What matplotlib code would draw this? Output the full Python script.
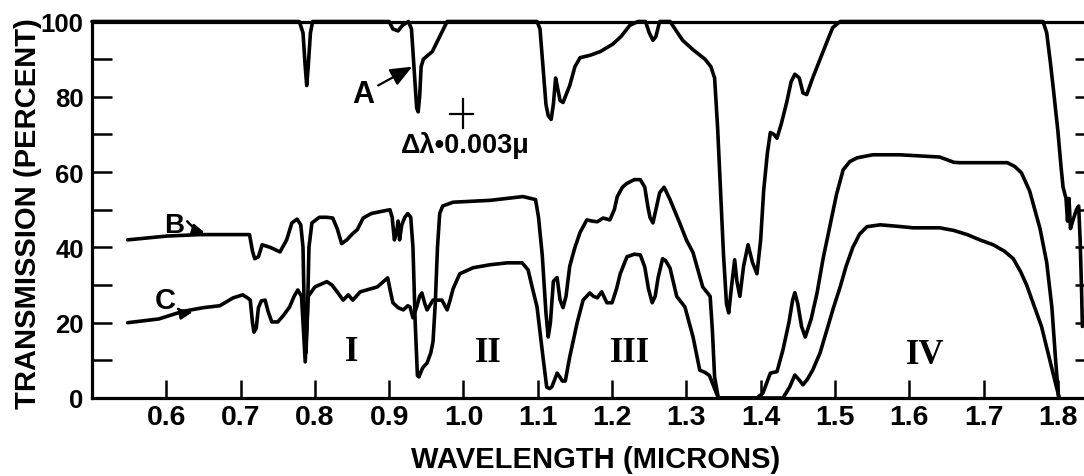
import matplotlib
matplotlib.use("Agg")
import matplotlib.pyplot as plt

# ---------------- data ----------------
# Curve A
A_WAVELENGTH = [0.500, 0.779, 0.784, 0.787, 0.789, 0.791, 0.794, 0.797,
                0.900, 0.905, 0.912, 0.918, 0.926, 0.930, 0.934, 0.937, 0.939, 0.941, 0.943, 0.946, 0.958, 0.968, 0.978,
                1.099, 1.103, 1.107, 1.111, 1.114, 1.118, 1.121, 1.124, 1.127, 1.130, 1.134, 1.143, 1.150, 1.157, 1.170,
                1.184, 1.201, 1.212, 1.224, 1.235, 1.245, 1.250, 1.255, 1.259, 1.264, 1.278,
                1.295, 1.309, 1.325, 1.333, 1.338, 1.342, 1.346, 1.350, 1.354, 1.357, 1.361, 1.365, 1.368, 1.372,
                1.377, 1.383, 1.389, 1.395, 1.400, 1.404, 1.409, 1.413, 1.418, 1.422, 1.428, 1.435, 1.441, 1.446,
                1.452, 1.457, 1.462, 1.470, 1.480, 1.490, 1.497, 1.507,
                1.780, 1.785, 1.790, 1.794, 1.800, 1.804, 1.807, 1.811, 1.813, 1.815, 1.817, 1.820, 1.825, 1.828,
                1.830, 1.832, 1.833]
A_TRANSMISSION = [100, 100, 97, 88, 83, 88, 97, 100,
                  100, 98, 97.5, 99, 100, 98, 86, 77, 76, 80, 88, 90, 92, 96, 100,
                  100, 98, 88, 78, 75, 74, 78, 85, 82, 79, 78.5, 83, 88, 90.4, 91,
                  92, 94, 96, 99, 100, 100, 97, 95, 96, 100, 100,
                  95, 92.5, 90, 88, 85, 72, 55, 38, 25, 22.6, 30, 36.7, 31, 27,
                  35, 40.7, 36, 33, 42, 55, 65, 70.5, 70, 69, 73, 78.5, 84, 86,
                  85, 81, 80.6, 85, 90, 95, 98.4, 100,
                  100, 97, 89, 82, 71, 62, 56, 53, 47, 53, 45, 47, 50, 51,
                  42, 28, 19]

# Curve B
B_WAVELENGTH = [0.548, 0.600, 0.645, 0.712, 0.716, 0.719, 0.724, 0.729, 0.740, 0.753,
                0.762, 0.769, 0.776, 0.781, 0.784, 0.786, 0.788, 0.790, 0.792, 0.796,
                0.806, 0.816, 0.824, 0.830, 0.836, 0.843, 0.850, 0.857, 0.865, 0.876,
                0.888, 0.901, 0.904, 0.907, 0.910, 0.912, 0.914, 0.917, 0.921, 0.925,
                0.929, 0.932, 0.935, 0.938, 0.940, 0.945, 0.951, 0.956, 0.959, 0.962,
                0.965, 0.968, 0.972, 0.986, 1.036, 1.080, 1.097, 1.101, 1.106, 1.111,
                1.114, 1.117, 1.121, 1.126, 1.130, 1.134, 1.138, 1.143, 1.150, 1.157,
                1.166, 1.173, 1.180, 1.188, 1.197, 1.203, 1.207, 1.214, 1.220, 1.230,
                1.238, 1.244, 1.248, 1.251, 1.255, 1.259, 1.264, 1.270, 1.278, 1.291,
                1.300, 1.309, 1.322, 1.332, 1.335, 1.338, 1.343, 1.395, 1.403, 1.413,
                1.422, 1.430, 1.438, 1.443, 1.446, 1.450, 1.455, 1.460, 1.468, 1.476,
                1.484, 1.493, 1.502, 1.511, 1.520, 1.530, 1.551, 1.587, 1.615, 1.641,
                1.660, 1.668, 1.732, 1.742, 1.751, 1.762, 1.776, 1.785, 1.792, 1.797, 1.801]
B_TRANSMISSION = [42, 43, 43.4, 43.4, 39, 37, 37.5, 40.7, 40, 38.8,
                  42, 46.5, 47.5, 46, 40, 20, 12, 22, 40, 46.5,
                  48, 48, 47.8, 45, 41, 42, 43.5, 44.7, 47.8, 49,
                  49.5, 50, 48, 42, 44, 47, 42, 46, 48, 49,
                  48, 40, 20, 6, 5.6, 8, 9.3, 12, 15, 25,
                  40, 49, 51, 52, 52.5, 53.5, 52.7, 48, 38, 22.6,
                  16.2, 20, 31, 32, 26, 24, 27, 35, 40, 44,
                  47.3, 47, 46.8, 47.8, 47.3, 50, 53.5, 56, 57, 58,
                  58, 56, 51, 48, 46.5, 50, 54.5, 56, 52.7, 46.5,
                  42, 38.6, 29.5, 27, 18, 5.6, 0, 0, 1.3, 6.6,
                  7, 12.8, 20, 26, 28, 25, 19, 16.2, 21, 28,
                  37, 45.5, 54, 60.6, 62.8, 63.8, 64.6, 64.6, 64.3, 64,
                  62.6, 62.5, 62.5, 61.5, 59.8, 55, 45, 36, 24, 10, 0]

# Curve C
C_WAVELENGTH = [0.548, 0.590, 0.622, 0.650, 0.672, 0.690, 0.703, 0.710, 0.713, 0.716,
                0.718, 0.721, 0.724, 0.728, 0.733, 0.737, 0.742, 0.750, 0.758, 0.766,
                0.772, 0.777, 0.782, 0.784, 0.787, 0.789, 0.791, 0.800, 0.816, 0.823,
                0.830, 0.838, 0.845, 0.851, 0.861, 0.884, 0.898, 0.902, 0.905, 0.912,
                0.919, 0.925, 0.928, 0.932, 0.937, 0.941, 0.944, 0.948, 0.951, 0.959,
                0.971, 0.975, 0.978, 0.982, 0.986, 0.995, 1.013, 1.036, 1.059, 1.079,
                1.087, 1.093, 1.099, 1.107, 1.112, 1.116, 1.119, 1.123, 1.126, 1.130,
                1.133, 1.137, 1.143, 1.153, 1.161, 1.170, 1.175, 1.180, 1.186, 1.193,
                1.200, 1.206, 1.211, 1.220, 1.230, 1.238, 1.244, 1.249, 1.254, 1.258,
                1.262, 1.268, 1.272, 1.278, 1.287, 1.298, 1.309, 1.318, 1.325, 1.331,
                1.337, 1.343, 1.430, 1.439, 1.446, 1.451, 1.457, 1.463, 1.470, 1.480,
                1.489, 1.498, 1.507, 1.515, 1.524, 1.533, 1.543, 1.561, 1.590, 1.605,
                1.641, 1.660, 1.678, 1.695, 1.713, 1.728, 1.740, 1.750, 1.758, 1.768,
                1.778, 1.788, 1.798, 1.802]
C_TRANSMISSION = [20, 21, 23, 24, 24.5, 26.6, 27.4, 26.5, 26, 20,
                  17.5, 18.5, 24, 25.8, 26, 23, 20.2, 20.2, 22, 24.2,
                  27, 28.7, 27, 20, 9.6, 18, 27, 29.5, 30.9, 30,
                  28.2, 26, 27.4, 26, 28.2, 29.5, 31.9, 28, 25.3, 24,
                  23.4, 24.5, 24.2, 21.3, 24.2, 27, 27.9, 25, 23.4, 26,
                  26, 24.5, 23.4, 26, 29, 33, 34.6, 35.4, 35.9, 35.9,
                  34, 29, 24.2, 10.9, 2.9, 2.5, 3, 5, 6.6, 5.5,
                  4.5, 4.5, 10.9, 20, 26, 27.9, 27, 26.6, 28.2, 25.3,
                  25.3, 29, 33, 37.5, 38.2, 38, 34.8, 29, 25.3, 27,
                  32, 37, 36.5, 34.5, 27, 24.2, 16.2, 7.4, 6.8, 6,
                  3, 0, 0, 2.9, 6.1, 5, 3.5, 5, 7.4, 12,
                  18, 24, 29.5, 35, 40, 43.5, 45.5, 46, 45.5, 45.2,
                  45.2, 44.5, 43.4, 42, 40.7, 39, 37, 33.5, 30, 24.5,
                  19, 11, 3, 0]

X_TICKS = [0.6, 0.7, 0.8, 0.9, 1.0, 1.1, 1.2, 1.3, 1.4, 1.5, 1.6, 1.7, 1.8]
X_TICK_LABELS = ["0.6", "0.7", "0.8", "0.9", "1.0", "1.1", "1.2", "1.3", "1.4", "1.5", "1.6", "1.7", "1.8"]
Y_TICKS = [0, 20, 40, 60, 80, 100]
Y_TICK_LABELS = ["0", "20", "40", "60", "80", "100"]
Y_MINOR_TICKS = [10, 30, 50, 70, 90]

REGION_LABELS = ["I", "II", "III", "IV"]
REGION_X = [0.850, 1.033, 1.224, 1.621]
REGION_Y = [10.2, 9.9, 9.9, 9.4]

# ---------------- figure ----------------
plt.rcParams['font.family'] = ['Liberation Sans', 'DejaVu Sans']
plt.rcParams['font.weight'] = 'bold'

W, H = 1084, 477
fig = plt.figure(figsize=(W / 100, H / 100), dpi=100)
fig.patch.set_facecolor('white')
ax_left, ax_right, ax_top, ax_bottom = 92, 1095, 22.5, 399
ax = fig.add_axes([ax_left / W, 1 - ax_bottom / H, (ax_right - ax_left) / W, (ax_bottom - ax_top) / H])

line_kw = dict(color='black', lw=2.6, solid_joinstyle='round', solid_capstyle='round', clip_on=False)
ax.plot(A_WAVELENGTH, A_TRANSMISSION, **line_kw)
ax.plot(B_WAVELENGTH, B_TRANSMISSION, **line_kw)
ax.plot(C_WAVELENGTH, C_TRANSMISSION, **line_kw)

ax.set_xlim(0.5, 1.85)
ax.set_ylim(0, 100)
ax.set_xticks(X_TICKS)
ax.set_xticklabels(X_TICK_LABELS)
ax.set_yticks(Y_TICKS)
ax.set_yticklabels(Y_TICK_LABELS)
ax.set_yticks(Y_MINOR_TICKS, minor=True)

ax.tick_params(axis='both', which='both', direction='in', width=1.8, colors='black')
ax.tick_params(axis='y', which='both', length=14.5, left=True, right=True, labelsize=18.5, pad=6)
ax.tick_params(axis='x', which='both', length=13, top=False, bottom=True, labelsize=20.5, pad=4)
for lab in ax.get_xticklabels() + ax.get_yticklabels():
    lab.set_fontweight('bold')
for s in ax.spines.values():
    s.set_linewidth(2.3)
    s.set_color('black')

fig.text(28.5 / W, 1 - 214 / H, "TRANSMISSION (PERCENT)", rotation=90, ha='center', va='center',
         fontsize=21, fontweight='bold')
fig.text(596 / W, 1 - 460 / H, "WAVELENGTH (MICRONS)", ha='center', va='center',
         fontsize=21, fontweight='bold')

# curve labels with arrows
ax.annotate("A", xy=(0.931, 88), xytext=(0.865, 78.7), ha='center', va='baseline',
            fontsize=22, fontweight='bold',
            arrowprops=dict(arrowstyle='-|>,head_length=0.6,head_width=0.25', color='black',
                            lw=1.6, shrinkA=1, shrinkB=0))
ax.annotate("B", xy=(0.652, 43.9), xytext=(0.611, 44.1), ha='center', va='baseline',
            fontsize=20, fontweight='bold',
            arrowprops=dict(arrowstyle='-|>,head_length=0.35,head_width=0.15', color='black',
                            lw=1.8, shrinkA=0, shrinkB=0, relpos=(0.95, 0.85),
                            connectionstyle='arc3,rad=0.2'))
ax.annotate("C", xy=(0.636, 22.9), xytext=(0.598, 23.9), ha='center', va='baseline',
            fontsize=21, fontweight='bold',
            arrowprops=dict(arrowstyle='-|>,head_length=0.35,head_width=0.15', color='black',
                            lw=1.8, shrinkA=0, shrinkB=0, relpos=(0.9, 0.35),
                            connectionstyle='arc3,rad=0.3'))

for lab, x, y in zip(REGION_LABELS, REGION_X, REGION_Y):
    ax.text(x, y, lab, ha='center', va='baseline', fontsize=25, fontweight='bold',
            family=['Liberation Serif', 'DejaVu Serif'])

# resolution marker
ax.plot([0.982, 1.013], [75.5, 75.5], color='black', lw=1.6, clip_on=False)
ax.plot([0.999, 0.999], [71.8, 79.3], color='black', lw=1.6, clip_on=False)
ax.text(1.002, 65.4, "Δλ•0.003μ", ha='center', va='baseline', fontsize=19.5, fontweight='bold')

fig.savefig("out.png", dpi=100, facecolor='white')
